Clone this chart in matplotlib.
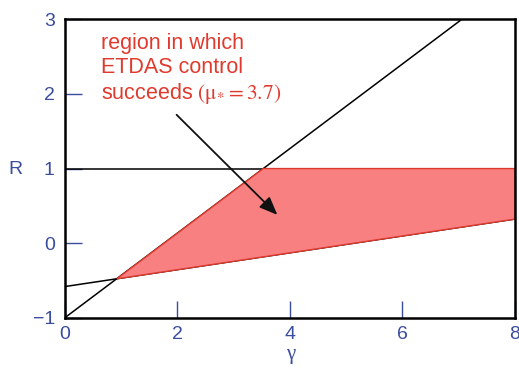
import numpy as np
import matplotlib
matplotlib.use("Agg")
from matplotlib import pyplot as plt
from matplotlib.patches import Polygon

plt.rcParams["mathtext.fontset"] = "stix"

blue = "#3a4c9e"
red_edge = "#e03a2e"
red_fill = "#f88080"

gamma_ticks = [0, 2, 4, 6, 8]
r_ticks = [-1, 0, 1, 2, 3]

# straight boundaries R(gamma)
diag_gamma = [0, 7.06]
diag_r = [-1, 3]
lower_gamma = [0, 8]
lower_r = [-0.58, 0.324]
flat_r = 1

# ETDAS success region (corners)
region_gamma = [0.93, 3.53, 8, 8]
region_r = [-0.475, 1, 1, 0.324]

arrow_start = (1.99, 1.72)
arrow_end = (3.78, 0.38)

fig = plt.figure(figsize=(5.19, 3.75), dpi=100)
ax = fig.add_axes([0.1243, 0.152, 0.8680, 0.797])

ax.plot(diag_gamma, diag_r, c="black", lw=1.1, zorder=2)
ax.plot(lower_gamma, lower_r, c="black", lw=1.1, zorder=2)
ax.axhline(flat_r, c="black", lw=1.1, zorder=2)

ax.add_patch(Polygon(np.column_stack([region_gamma, region_r]), closed=True,
                     facecolor=red_fill, edgecolor=red_edge, lw=1.0, zorder=3))

ax.annotate("", xy=arrow_end, xytext=arrow_start,
            arrowprops=dict(arrowstyle="-|>,head_length=1.1,head_width=0.45",
                            color="#111111", lw=1.3, shrinkA=0, shrinkB=0),
            zorder=5)

ax.text(0.64, 2.81, "region in which\nETDAS control\nsucceeds $(\\mathrm{\\mu}_{*} = 3.7)$",
        color=red_edge, fontsize=15.5, family="Liberation Sans",
        va="top", ha="left", linespacing=1.18)

ax.set_xlim(0, 8)
ax.set_ylim(-1, 3)
ax.set_xticks(gamma_ticks)
ax.set_yticks(r_ticks)
ax.set_xticklabels([str(t) for t in gamma_ticks])
ax.set_yticklabels(["\u22121" if t < 0 else str(t) for t in r_ticks])
ax.tick_params(axis="both", direction="in", length=12, width=1.0, color=blue,
               labelcolor=blue, labelsize=14)
ax.tick_params(axis="x", pad=6)
ax.tick_params(axis="y", pad=7)
for lab in ax.get_xticklabels() + ax.get_yticklabels():
    lab.set_family("Liberation Sans")

for s in ax.spines.values():
    s.set_linewidth(1.8)
    s.set_color("black")
    s.set_zorder(6)

fig.text(15.5 / 519, 1 - 169 / 375, "R", color=blue, fontsize=14,
         family="Liberation Sans", ha="center", va="center")
fig.text(291 / 519, 1 - 354 / 375, "γ", color=blue, fontsize=15,
         family="Liberation Serif", ha="center", va="center")

fig.savefig("out.png", dpi=100)
